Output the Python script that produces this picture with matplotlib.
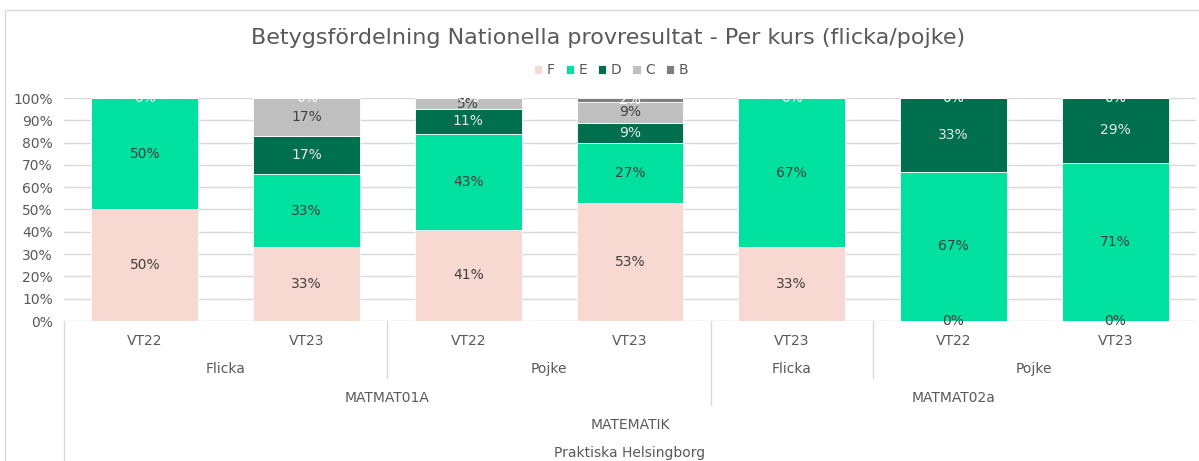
import numpy as np
import matplotlib
matplotlib.use("Agg")
import matplotlib.pyplot as plt
from matplotlib.patches import Rectangle

plt.rcParams['font.family'] = ['DejaVu Sans']

terms = ["VT22", "VT23", "VT22", "VT23", "VT23", "VT22", "VT23"]
genders = ["Flicka", "Pojke", "Flicka", "Pojke"]
gender_spans = [(0, 2), (2, 4), (4, 5), (5, 7)]
courses = ["MATMAT01A", "MATMAT02a"]
course_spans = [(0, 4), (4, 7)]
subject = "MATEMATIK"
school = "Praktiska Helsingborg"

series = ["F", "E", "D", "C", "B"]
nan = np.nan
F = [50, 33, 41, 53, 33, 0, 0]
E = [50, 33, 43, 27, 67, 67, 71]
D = [nan, 17, 11, 9, nan, 33, 29]
C = [nan, 17, 5, 9, nan, nan, nan]
B = [0, 0, 0, 2, 0, 0, 0]
values = [F, E, D, C, B]

colors = ["#F7D9D1", "#00E09E", "#006F4E", "#BFBFBF", "#7F7F7F"]
label_colors = ["#404040", "#404040", "#E8E8E8", "#404040", "#FFFFFF"]

W, H = 1199, 461
fig = plt.figure(figsize=(W / 100, H / 100), dpi=100)
fig.patches.append(Rectangle((5 / W, -0.1), (W + 20) / W, (H - 10) / H + 0.1, transform=fig.transFigure,
                             fill=False, edgecolor="#D9D9D9", lw=1))

ax_l, ax_r, ax_t, ax_b = 64, 1196, 98, 321
ax = fig.add_axes([ax_l / W, (H - ax_b) / H, (ax_r - ax_l) / W, (ax_b - ax_t) / H])

n = len(terms)
x = np.arange(n)
bottom = np.zeros(n)
for s, vals, col, lc in zip(series, values, colors, label_colors):
    v = np.array(vals, dtype=float)
    h = np.nan_to_num(v)
    ax.bar(x, h, 0.66, bottom=bottom, color=col, edgecolor="white", linewidth=0.6, label=s, zorder=2)
    for i in range(n):
        if not np.isnan(v[i]):
            ax.text(x[i], bottom[i] + h[i] / 2, f"{int(v[i])}%", ha="center", va="center",
                    fontsize=10, color=lc, zorder=3)
    bottom += h

ax.set_xlim(-0.5, n - 0.5)
ax.set_ylim(0, 100)
ax.set_yticks(np.arange(0, 101, 10))
ax.set_yticklabels([f"{t}%" for t in range(0, 101, 10)], color="#595959", fontsize=10)
ax.tick_params(axis="y", length=0, pad=8)
ax.set_xticks([])
for sp in ax.spines.values():
    sp.set_visible(False)
ax.grid(axis="y", color="#D9D9D9", lw=1, zorder=0)
ax.set_axisbelow(True)

# multi-level category axis
tr = ax.get_xaxis_transform()
ah = ax_b - ax_t
def yp(pix):
    return (ax_b - pix) / ah

txt = dict(ha="center", va="center", fontsize=10, color="#595959", transform=tr, clip_on=False)
for i, t in enumerate(terms):
    ax.text(i, yp(341), t, **txt)
for g, (a, b) in zip(genders, gender_spans):
    ax.text((a + b - 1) / 2, yp(369), g, **txt)
for c, (a, b) in zip(courses, course_spans):
    ax.text((a + b - 1) / 2, yp(398), c, **txt)
ax.text((n - 1) / 2, yp(425), subject, **txt)
ax.text((n - 1) / 2, yp(453), school, **txt)

lk = dict(color="#D9D9D9", lw=1, transform=tr, clip_on=False)
ax.plot([-0.5, -0.5], [yp(321), yp(461)], **lk)
for (a, b) in gender_spans[:-1]:
    if b != 4:
        ax.plot([b - 0.5, b - 0.5], [yp(321), yp(378)], **lk)
ax.plot([3.5, 3.5], [yp(321), yp(405)], **lk)

fig.legend(*ax.get_legend_handles_labels(), loc="center", bbox_to_anchor=(611 / W, (H - 70) / H),
           ncol=5, frameon=False, fontsize=10,
           handlelength=0.6, handleheight=0.6, columnspacing=0.8, handletextpad=0.3,
           labelcolor="#595959")

fig.text(608 / W, (H - 38) / H, "Betygsfördelning Nationella provresultat - Per kurs (flicka/pojke)",
         ha="center", va="center", fontsize=16, color="#595959")

fig.savefig("out.png", dpi=100)
